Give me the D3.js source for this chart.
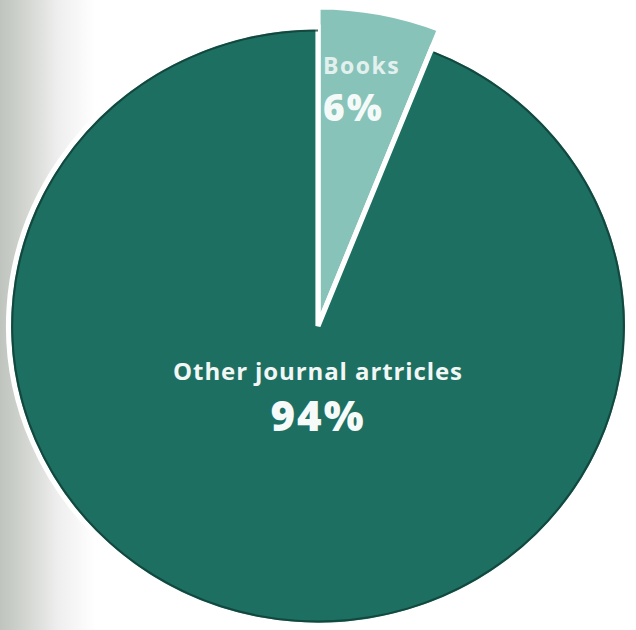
<!DOCTYPE html>
<html>
<head>
<meta charset="utf-8">
<script src="https://cdn.jsdelivr.net/npm/d3@7"></script>
<style>
html,body{margin:0;padding:0;background:#fff;}
svg{display:block;}
</style>
</head>
<body>
<svg id="chart" width="636" height="630"></svg>
<script>
const categories = ["Books", "Other journal artricles"];
const values = [6, 94];
const labels = ["6%", "94%"];
const colors = ["#88c3b9", "#1d6f62"];

const svg = d3.select("#chart");
const W = 636, H = 630;

// photographic background: grey strip on the left fading to white
const defs = svg.append("defs");
const g1 = defs.append("linearGradient").attr("id", "bg").attr("x1", "0").attr("x2", "1").attr("y1", "0").attr("y2", "0");
g1.append("stop").attr("offset", "0").attr("stop-color", "#bfc4be");
g1.append("stop").attr("offset", "0.04").attr("stop-color", "#d2d5d0");
g1.append("stop").attr("offset", "0.09").attr("stop-color", "#eeeeee");
g1.append("stop").attr("offset", "0.15").attr("stop-color", "#ffffff");
g1.append("stop").attr("offset", "1").attr("stop-color", "#ffffff");
svg.append("rect").attr("width", W).attr("height", H).attr("fill", "url(#bg)");

const cx = 318, cy = 326, r = 299, rBooks = 319, sx = 1.035;

const pie = d3.pie().sort(null).value(d => d.value);
const data = categories.map((c, i) => ({ name: c, value: values[i], label: labels[i], color: colors[i] }));
const arcs = pie(data);

const g = svg.append("g").attr("transform", `translate(${cx},${cy}) scale(${sx},1)`);

const arcMain = d3.arc().innerRadius(0).outerRadius(r);
const arcBook = d3.arc().innerRadius(0).outerRadius(rBooks);

g.selectAll("path.slice")
  .data(arcs)
  .join("path")
  .attr("class", "slice")
  .attr("d", d => d.data.name === "Books" ? arcBook(d) : arcMain(d))
  .attr("fill", d => d.data.color)
  .attr("stroke", "#ffffff")
  .attr("stroke-width", 5)
  .attr("stroke-linejoin", "miter");

// subtle dark rim on the big slice (photo shading)
g.append("path")
  .attr("d", d3.arc().innerRadius(r - 4.5).outerRadius(r - 2.5)({ startAngle: arcs[1].startAngle + 0.012, endAngle: arcs[1].endAngle }))
  .attr("fill", "#0f3b33")
  .attr("opacity", 0.75);

const font = "'Open Sans', 'DejaVu Sans', sans-serif";

// Books label
const bt = svg.append("g").attr("transform", `translate(${cx + 5},0)`);
bt.append("text").attr("x", 0).attr("y", 74)
  .attr("font-family", font).attr("font-weight", 700).attr("font-size", 23)
  .attr("fill", "#e3f1ee").attr("letter-spacing", 1.5)
  .text(categories[0]);
bt.append("text").attr("x", 0).attr("y", 121)
  .attr("font-family", font).attr("font-weight", 800).attr("font-size", 37)
  .attr("fill", "#f4faf8").attr("letter-spacing", 2)
  .text(labels[0]);

// Other label
svg.append("text").attr("x", cx).attr("y", 380).attr("text-anchor", "middle")
  .attr("font-family", font).attr("font-weight", 700).attr("font-size", 24)
  .attr("fill", "#f2f7f5").attr("letter-spacing", 0.9)
  .text(categories[1]);
svg.append("text").attr("x", cx).attr("y", 431).attr("text-anchor", "middle")
  .attr("font-family", font).attr("font-weight", 800).attr("font-size", 42)
  .attr("fill", "#f6faf9").attr("letter-spacing", 2)
  .text(labels[1]);
</script>
</body>
</html>
